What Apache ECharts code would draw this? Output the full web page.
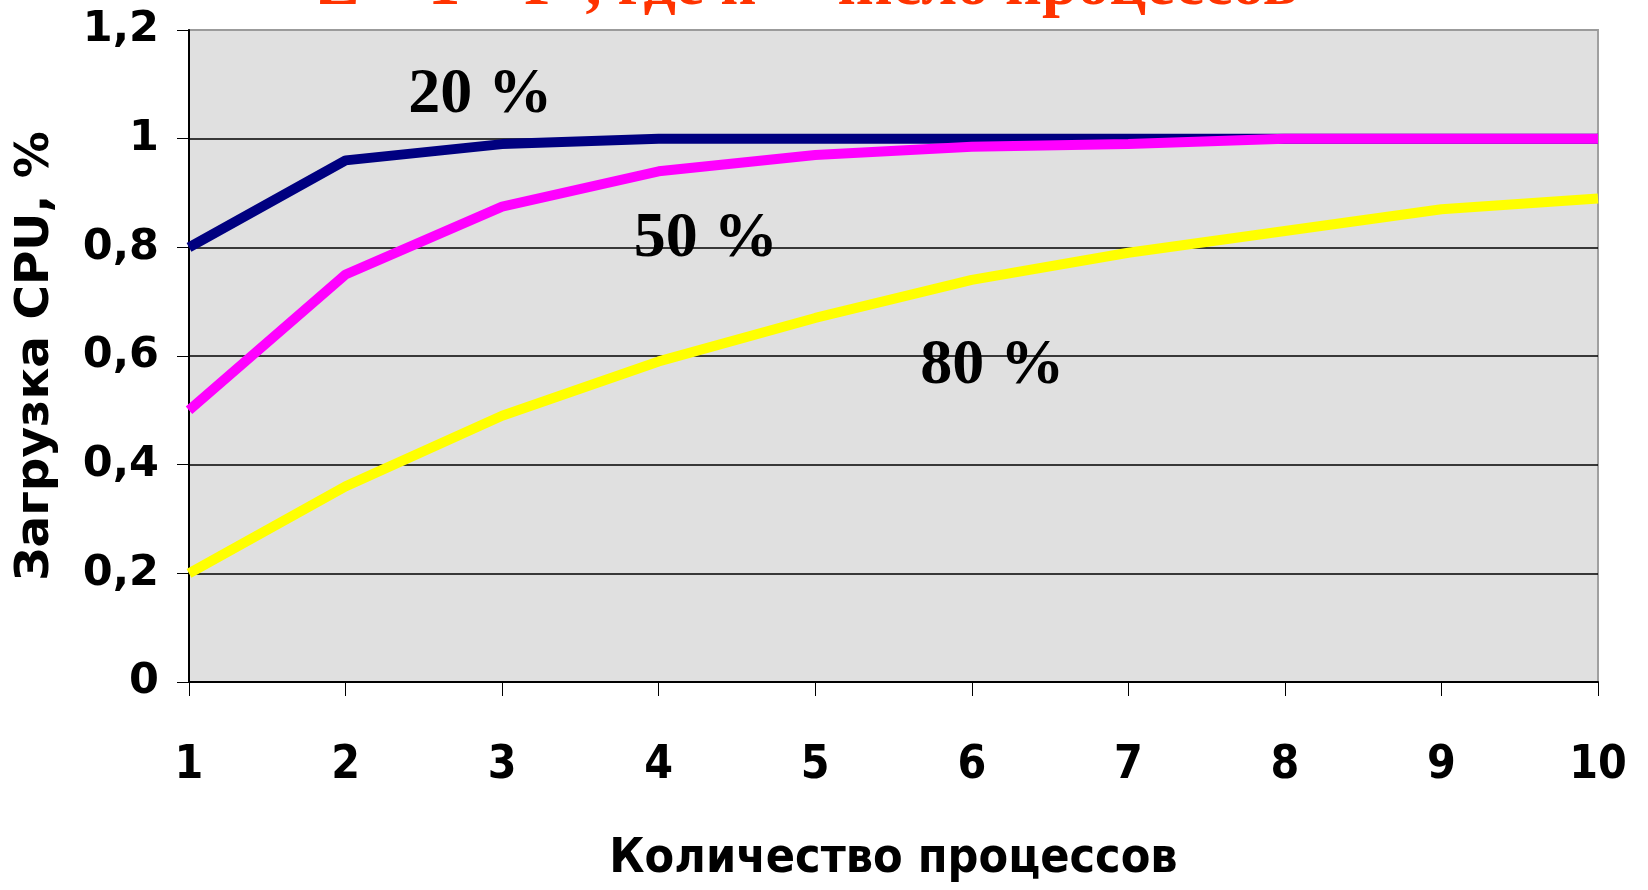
<!DOCTYPE html>
<html>
<head>
<meta charset="utf-8">
<script src="https://cdn.jsdelivr.net/npm/echarts@6/dist/echarts.min.js"></script>
<style>
  html, body { margin: 0; padding: 0; background: #ffffff; }
  #chart { width: 1648px; height: 890px; }
</style>
</head>
<body>
<div id="chart"></div>
<script>
// ---- data ----
const processes = [1, 2, 3, 4, 5, 6, 7, 8, 9, 10];
const load20 = [0.80, 0.96, 0.99, 1.00, 1.00, 1.00, 1.00, 1.00, 1.00, 1.00];
const load50 = [0.50, 0.75, 0.875, 0.94, 0.97, 0.985, 0.99, 1.00, 1.00, 1.00];
const load80 = [0.20, 0.36, 0.49, 0.59, 0.67, 0.74, 0.79, 0.83, 0.87, 0.89];
const seriesNames = ['20 %', '50 %', '80 %'];
const labelX = [2.86, 4.30, 6.13];
const labelY = [1.08, 0.815, 0.58];
const yTicks = [0, 0.2, 0.4, 0.6, 0.8, 1, 1.2];
const titleText = 'Z = 1 – Pⁿ, где n – число процессов';
const xAxisTitle = 'Количество процессов';
const yAxisTitle = 'Загрузка CPU, %';

function pairs(vals) { return processes.map((x, i) => [x, vals[i]]); }

const chart = echarts.init(document.getElementById('chart'), null, { renderer: 'canvas' });

const option = {
  backgroundColor: '#ffffff',
  animation: false,
  title: {
    text: titleText,
    left: 312,
    top: -50,
    textStyle: {
      fontFamily: 'Liberation Serif',
      fontWeight: 'bold',
      fontSize: 64,
      color: '#ff3300'
    }
  },
  grid: {
    left: 189, right: 50, top: 30, bottom: 208,
    show: true,
    backgroundColor: '#e0e0e0',
    borderColor: '#a0a0a0',
    borderWidth: 2
  },
  xAxis: {
    type: 'value',
    min: 1, max: 10, interval: 1,
    name: xAxisTitle,
    nameLocation: 'middle',
    nameGap: 154,
    nameTextStyle: {
      fontFamily: 'DejaVu Sans Condensed',
      fontWeight: 'bold',
      fontSize: 48,
      color: '#000'
    },
    axisLine: { show: true, lineStyle: { color: '#000', width: 2 } },
    axisTick: { show: true, length: 14, lineStyle: { color: '#000', width: 1 } },
    axisLabel: {
      margin: 61,
      fontFamily: 'DejaVu Sans Condensed',
      fontWeight: 'bold',
      fontSize: 46,
      color: '#000',
      formatter: v => String(v)
    },
    splitLine: { show: false }
  },
  yAxis: {
    type: 'value',
    min: 0, max: 1.2, interval: 0.2,
    name: yAxisTitle,
    nameLocation: 'middle',
    nameRotate: 90,
    nameGap: 130,
    nameTextStyle: {
      fontFamily: 'DejaVu Sans',
      fontWeight: 'bold',
      fontSize: 47,
      color: '#000'
    },
    axisLine: { show: true, lineStyle: { color: '#000', width: 2 } },
    axisTick: { show: true, length: 12, lineStyle: { color: '#000', width: 1 } },
    axisLabel: {
      margin: 30,
      fontFamily: 'DejaVu Sans',
      fontWeight: 'bold',
      fontSize: 43,
      color: '#000',
      formatter: v => {
        const t = yTicks.find(k => Math.abs(k - v) < 1e-6);
        return String(t !== undefined ? t : v).replace('.', ',');
      }
    },
    splitLine: {
      show: true,
      lineStyle: {
        color: ['#000', '#000', '#000', '#000', '#000', '#000', '#9a9a9a'],
        width: 1.5
      }
    }
  },
  series: [
    {
      name: seriesNames[2], type: 'line', data: pairs(load80),
      showSymbol: false, symbol: 'none',
      lineStyle: { color: '#ffff00', width: 10 }, z: 2
    },
    {
      name: seriesNames[0], type: 'line', data: pairs(load20),
      showSymbol: false, symbol: 'none',
      lineStyle: { color: '#000080', width: 10 }, z: 3
    },
    {
      name: seriesNames[1], type: 'line', data: pairs(load50),
      showSymbol: false, symbol: 'none',
      lineStyle: { color: '#ff00ff', width: 10 }, z: 4
    },
    {
      name: 'labels', type: 'scatter', z: 6,
      symbolSize: 1,
      itemStyle: { opacity: 1, color: 'rgba(0,0,0,0)' },
      data: seriesNames.map((n, i) => ({ value: [labelX[i], labelY[i]], name: n })),
      label: {
        show: true,
        position: 'inside',
        formatter: p => p.name,
        fontFamily: 'Liberation Serif',
        fontWeight: 'bold',
        fontSize: 64,
        color: '#000000',
        opacity: 1
      }
    }
  ]
};

chart.setOption(option);
</script>
</body>
</html>
